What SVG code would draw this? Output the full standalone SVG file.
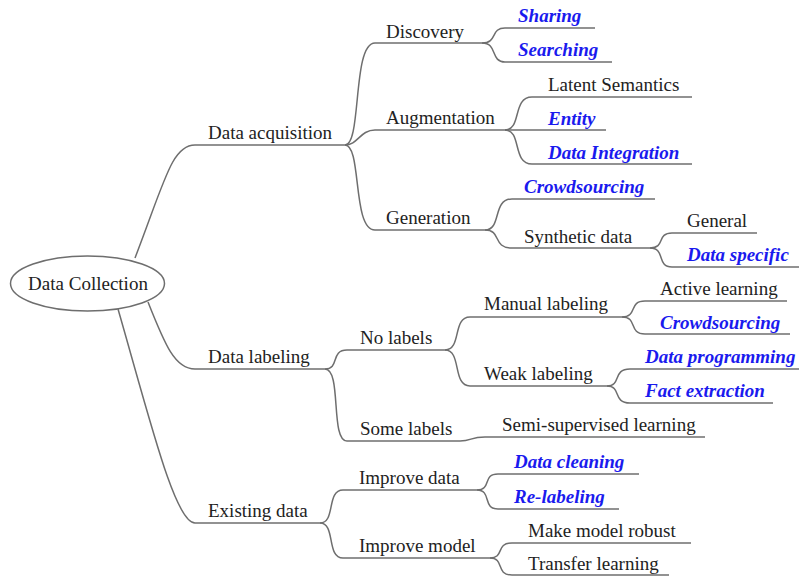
<svg xmlns="http://www.w3.org/2000/svg" width="799" height="577" viewBox="0 0 799 577" font-family="'Liberation Serif', serif">
<rect width="799" height="577" fill="#fff"/>
<g id="connectors" stroke="#6e6e6e" stroke-width="1.5" fill="none">
<path d="M135,258 C165,180 172,145 195,145"/>
<path d="M148,302 C165,345 175,369 195,369"/>
<path d="M118,309 C150,420 175,523 195,523"/>
<path d="M345,145 C362,145 352,43 375,43"/>
<path d="M345,145 C358,145 360,130 375,130"/>
<path d="M345,145 C362,145 352,230 375,230"/>
<path d="M482,43 C498,43 490,28 505,28"/>
<path d="M482,43 C498,43 490,62 505,62"/>
<path d="M505,130 C522,130 512,97 532,97"/>
<path d="M505,130 L532,130"/>
<path d="M505,130 C522,130 512,164 532,164"/>
<path d="M485,230 C502,230 492,199 512,199"/>
<path d="M485,230 C502,230 492,248 512,248"/>
<path d="M650,248 C666,248 656,233 672,233"/>
<path d="M650,248 C666,248 656,267 672,267"/>
<path d="M325,369 C340,369 330,350 347,350"/>
<path d="M325,369 C342,369 330,441 347,441"/>
<path d="M445,350 C462,350 452,317 470,317"/>
<path d="M445,350 C462,350 452,386 470,386"/>
<path d="M460,441 C472,441 470,437 485,437"/>
<path d="M622,317 C638,317 628,301 645,301"/>
<path d="M622,317 C638,317 628,334 645,334"/>
<path d="M607,386 C622,386 612,369 630,369"/>
<path d="M607,386 C622,386 612,403 630,403"/>
<path d="M320,523 C336,523 326,490 343,490"/>
<path d="M320,523 C336,523 326,558 343,558"/>
<path d="M477,490 C492,490 482,474 498,474"/>
<path d="M477,490 C492,490 482,509 498,509"/>
<path d="M490,558 C505,558 495,543 512,543"/>
<path d="M490,558 C505,558 495,575 512,575"/>
</g>
<g id="root"><ellipse cx="87.5" cy="283.5" rx="77" ry="27.5" fill="#fff" stroke="#6e6e6e" stroke-width="1.5"/><text font-family="'Liberation Serif', serif" font-size="19" fill="#222" x="88" y="290" text-anchor="middle">Data Collection</text></g>
<g id="acq"><line stroke="#6e6e6e" stroke-width="1.5" x1="195" y1="145" x2="345" y2="145"/><text font-family="'Liberation Serif', serif" font-size="19" fill="#222" x="208" y="139">Data acquisition</text></g>
<g id="lab"><line stroke="#6e6e6e" stroke-width="1.5" x1="195" y1="369" x2="325" y2="369"/><text font-family="'Liberation Serif', serif" font-size="19" fill="#222" x="208" y="363">Data labeling</text></g>
<g id="exist"><line stroke="#6e6e6e" stroke-width="1.5" x1="195" y1="523" x2="320" y2="523"/><text font-family="'Liberation Serif', serif" font-size="19" fill="#222" x="208" y="517">Existing data</text></g>
<g id="disc"><line stroke="#6e6e6e" stroke-width="1.5" x1="375" y1="43" x2="482" y2="43"/><text font-family="'Liberation Serif', serif" font-size="19" fill="#222" x="386" y="38">Discovery</text></g>
<g id="aug"><line stroke="#6e6e6e" stroke-width="1.5" x1="375" y1="130" x2="505" y2="130"/><text font-family="'Liberation Serif', serif" font-size="19" fill="#222" x="386" y="124">Augmentation</text></g>
<g id="gen"><line stroke="#6e6e6e" stroke-width="1.5" x1="375" y1="230" x2="485" y2="230"/><text font-family="'Liberation Serif', serif" font-size="19" fill="#222" x="386" y="224">Generation</text></g>
<g id="sharing"><line stroke="#6e6e6e" stroke-width="1.5" x1="505" y1="28" x2="595" y2="28"/><text font-family="'Liberation Serif', serif" font-size="19" font-weight="bold" font-style="italic" fill="#1a1aee" x="518" y="22">Sharing</text></g>
<g id="searching"><line stroke="#6e6e6e" stroke-width="1.5" x1="505" y1="62" x2="612" y2="62"/><text font-family="'Liberation Serif', serif" font-size="19" font-weight="bold" font-style="italic" fill="#1a1aee" x="518" y="56">Searching</text></g>
<g id="latent"><line stroke="#6e6e6e" stroke-width="1.5" x1="532" y1="97" x2="692" y2="97"/><text font-family="'Liberation Serif', serif" font-size="19" fill="#222" x="548" y="91">Latent Semantics</text></g>
<g id="entity"><line stroke="#6e6e6e" stroke-width="1.5" x1="532" y1="130" x2="606" y2="130"/><text font-family="'Liberation Serif', serif" font-size="19" font-weight="bold" font-style="italic" fill="#1a1aee" x="548" y="125">Entity</text></g>
<g id="dataint"><line stroke="#6e6e6e" stroke-width="1.5" x1="532" y1="164" x2="692" y2="164"/><text font-family="'Liberation Serif', serif" font-size="19" font-weight="bold" font-style="italic" fill="#1a1aee" x="548" y="159">Data Integration</text></g>
<g id="crowd1"><line stroke="#6e6e6e" stroke-width="1.5" x1="512" y1="199" x2="655" y2="199"/><text font-family="'Liberation Serif', serif" font-size="19" font-weight="bold" font-style="italic" fill="#1a1aee" x="524" y="193">Crowdsourcing</text></g>
<g id="synth"><line stroke="#6e6e6e" stroke-width="1.5" x1="512" y1="248" x2="650" y2="248"/><text font-family="'Liberation Serif', serif" font-size="19" fill="#222" x="524" y="243">Synthetic data</text></g>
<g id="general"><line stroke="#6e6e6e" stroke-width="1.5" x1="672" y1="233" x2="757" y2="233"/><text font-family="'Liberation Serif', serif" font-size="19" fill="#222" x="687" y="227">General</text></g>
<g id="dataspec"><line stroke="#6e6e6e" stroke-width="1.5" x1="672" y1="267" x2="799" y2="267"/><text font-family="'Liberation Serif', serif" font-size="19" font-weight="bold" font-style="italic" fill="#1a1aee" x="687" y="261">Data specific</text></g>
<g id="nolabels"><line stroke="#6e6e6e" stroke-width="1.5" x1="347" y1="350" x2="445" y2="350"/><text font-family="'Liberation Serif', serif" font-size="19" fill="#222" x="360" y="344">No labels</text></g>
<g id="somelabels"><line stroke="#6e6e6e" stroke-width="1.5" x1="347" y1="441" x2="460" y2="441"/><text font-family="'Liberation Serif', serif" font-size="19" fill="#222" x="360" y="435">Some labels</text></g>
<g id="semi"><line stroke="#6e6e6e" stroke-width="1.5" x1="485" y1="437" x2="705" y2="437"/><text font-family="'Liberation Serif', serif" font-size="19" fill="#222" x="502" y="431">Semi-supervised learning</text></g>
<g id="manual"><line stroke="#6e6e6e" stroke-width="1.5" x1="470" y1="317" x2="622" y2="317"/><text font-family="'Liberation Serif', serif" font-size="19" fill="#222" x="484" y="310">Manual labeling</text></g>
<g id="weak"><line stroke="#6e6e6e" stroke-width="1.5" x1="470" y1="386" x2="607" y2="386"/><text font-family="'Liberation Serif', serif" font-size="19" fill="#222" x="484" y="380">Weak labeling</text></g>
<g id="active"><line stroke="#6e6e6e" stroke-width="1.5" x1="645" y1="301" x2="787" y2="301"/><text font-family="'Liberation Serif', serif" font-size="19" fill="#222" x="660" y="295">Active learning</text></g>
<g id="crowd2"><line stroke="#6e6e6e" stroke-width="1.5" x1="645" y1="334" x2="790" y2="334"/><text font-family="'Liberation Serif', serif" font-size="19" font-weight="bold" font-style="italic" fill="#1a1aee" x="660" y="329">Crowdsourcing</text></g>
<g id="dataprog"><line stroke="#6e6e6e" stroke-width="1.5" x1="630" y1="369" x2="799" y2="369"/><text font-family="'Liberation Serif', serif" font-size="19" font-weight="bold" font-style="italic" fill="#1a1aee" x="645" y="363">Data programming</text></g>
<g id="fact"><line stroke="#6e6e6e" stroke-width="1.5" x1="630" y1="403" x2="773" y2="403"/><text font-family="'Liberation Serif', serif" font-size="19" font-weight="bold" font-style="italic" fill="#1a1aee" x="645" y="397">Fact extraction</text></g>
<g id="impdata"><line stroke="#6e6e6e" stroke-width="1.5" x1="343" y1="490" x2="477" y2="490"/><text font-family="'Liberation Serif', serif" font-size="19" fill="#222" x="359" y="484">Improve data</text></g>
<g id="impmodel"><line stroke="#6e6e6e" stroke-width="1.5" x1="343" y1="558" x2="490" y2="558"/><text font-family="'Liberation Serif', serif" font-size="19" fill="#222" x="359" y="552">Improve model</text></g>
<g id="clean"><line stroke="#6e6e6e" stroke-width="1.5" x1="498" y1="474" x2="639" y2="474"/><text font-family="'Liberation Serif', serif" font-size="19" font-weight="bold" font-style="italic" fill="#1a1aee" x="514" y="468">Data cleaning</text></g>
<g id="relabel"><line stroke="#6e6e6e" stroke-width="1.5" x1="498" y1="509" x2="619" y2="509"/><text font-family="'Liberation Serif', serif" font-size="19" font-weight="bold" font-style="italic" fill="#1a1aee" x="514" y="503">Re-labeling</text></g>
<g id="robust"><line stroke="#6e6e6e" stroke-width="1.5" x1="512" y1="543" x2="691" y2="543"/><text font-family="'Liberation Serif', serif" font-size="19" fill="#222" x="528" y="537">Make model robust</text></g>
<g id="transfer"><line stroke="#6e6e6e" stroke-width="1.5" x1="512" y1="575" x2="669" y2="575"/><text font-family="'Liberation Serif', serif" font-size="19" fill="#222" x="528" y="570">Transfer learning</text></g>
</svg>
